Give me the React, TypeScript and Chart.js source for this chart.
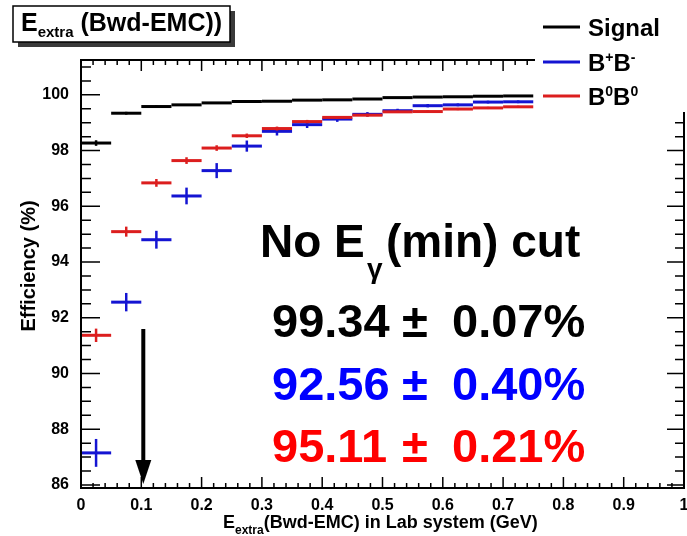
import React, { useEffect, useRef } from "react";
import { Chart, registerables } from "chart.js";
Chart.register(...registerables);

// ---- data ----
const binLow = [0, 0.05, 0.1, 0.15, 0.2, 0.25, 0.3, 0.35, 0.4, 0.45, 0.5, 0.55, 0.6, 0.65, 0.7];
const binWidth = 0.05;
const signalEff = [98.27, 99.34, 99.58, 99.64, 99.71, 99.76, 99.77, 99.81, 99.82, 99.85, 99.9, 99.92, 99.93, 99.95, 99.96];
const signalErr = [0.1, 0.05, 0.04, 0.03, 0.03, 0.03, 0.02, 0.02, 0.02, 0.02, 0.02, 0.02, 0.02, 0.02, 0.02];
const bpbmEff = [87.15, 92.56, 94.8, 96.37, 97.28, 98.16, 98.69, 98.93, 99.13, 99.3, 99.43, 99.61, 99.64, 99.74, 99.75];
const bpbmErr = [0.5, 0.33, 0.32, 0.3, 0.27, 0.2, 0.15, 0.12, 0.1, 0.08, 0.07, 0.06, 0.05, 0.05, 0.05];
const b0b0Eff = [91.37, 95.09, 96.84, 97.64, 98.09, 98.53, 98.79, 99.04, 99.19, 99.27, 99.39, 99.4, 99.49, 99.53, 99.57];
const b0b0Err = [0.24, 0.18, 0.14, 0.12, 0.1, 0.08, 0.07, 0.06, 0.05, 0.05, 0.04, 0.04, 0.04, 0.04, 0.04];

const xTickValues = [0, 0.1, 0.2, 0.3, 0.4, 0.5, 0.6, 0.7, 0.8, 0.9, 1];
const xTickLabels = ["0", "0.1", "0.2", "0.3", "0.4", "0.5", "0.6", "0.7", "0.8", "0.9", "1"];
const yTickValues = [86, 88, 90, 92, 94, 96, 98, 100];
const yTickLabels = ["86", "88", "90", "92", "94", "96", "98", "100"];

const seriesNames = ["Signal", "B+B-", "B0B0"];
const summaryValues = ["99.34", "92.56", "95.11"];
const summaryErrors = ["0.07%", "0.40%", "0.21%"];
const arrowX = 0.1;
const arrowTop = 91.6;
const arrowTip = 86.03;

const X_MIN = 0, X_MAX = 1, Y_MIN = 85.89, Y_MAX = 101.25;

const FONT = "'Liberation Sans', Arial, Helvetica, sans-serif";
const COLORS = ["#000000", "#1414d2", "#dc1e1e"];
const TEXT_COLORS = ["#000000", "#0000ff", "#ff0000"];

type Part = { t: string; size: number; dy?: number };
function drawParts(ctx: CanvasRenderingContext2D, parts: Part[], x: number, y: number, color: string) {
  ctx.save();
  ctx.fillStyle = color;
  ctx.textAlign = "left";
  ctx.textBaseline = "alphabetic";
  let cx = x;
  for (const p of parts) {
    ctx.font = `bold ${p.size}px ${FONT}`;
    ctx.fillText(p.t, cx, y + (p.dy || 0));
    cx += ctx.measureText(p.t).width;
  }
  ctx.restore();
  return cx;
}

const errorPlugin = {
  id: "rootErrors",
  afterDatasetsDraw(chart: any) {
    const ctx: CanvasRenderingContext2D = chart.ctx;
    const xs = chart.scales.x, ys = chart.scales.y;
    chart.data.datasets.forEach((ds: any) => {
      ctx.save();
      ctx.strokeStyle = ds.borderColor;
      ds.data.forEach((pt: any, i: number) => {
        const x1 = xs.getPixelForValue(pt.x - binWidth / 2);
        const x2 = xs.getPixelForValue(pt.x + binWidth / 2);
        const yc = ys.getPixelForValue(pt.y);
        const yTop = ys.getPixelForValue(pt.y + ds.errors[i]);
        const yBot = ys.getPixelForValue(pt.y - ds.errors[i]);
        const xc = xs.getPixelForValue(pt.x);
        ctx.lineWidth = 3;
        ctx.beginPath();
        ctx.moveTo(x1, yc);
        ctx.lineTo(x2, yc);
        ctx.stroke();
        ctx.lineWidth = 2.5;
        ctx.beginPath();
        ctx.moveTo(xc, yTop);
        ctx.lineTo(xc, yBot);
        ctx.stroke();
      });
      ctx.restore();
    });
  },
};

const decorPlugin = {
  id: "rootDecor",
  afterDraw(chart: any) {
    const ctx: CanvasRenderingContext2D = chart.ctx;
    const xs = chart.scales.x, ys = chart.scales.y;
    const { left, right, top, bottom } = chart.chartArea;
    ctx.save();
    ctx.strokeStyle = "#000";
    ctx.lineWidth = 2;
    ctx.strokeRect(left, top, right - left, bottom - top);
    ctx.lineWidth = 1.5;
    for (let k = 0; k <= 50; k++) {
      const v = X_MIN + k * 0.02;
      const px = xs.getPixelForValue(v);
      const len = k % 5 === 0 ? 11 : 5;
      ctx.beginPath();
      ctx.moveTo(px, bottom);
      ctx.lineTo(px, bottom - len);
      ctx.moveTo(px, top);
      ctx.lineTo(px, top + len);
      ctx.stroke();
    }
    for (let k = 0; k * 0.5 + 86 <= Y_MAX; k++) {
      const v = 86 + k * 0.5;
      const py = ys.getPixelForValue(v);
      const major = k % 4 === 0;
      ctx.beginPath();
      ctx.moveTo(left, py);
      ctx.lineTo(left + (major ? 19 : 10), py);
      ctx.moveTo(right, py);
      ctx.lineTo(right - (major ? 17 : 9), py);
      ctx.stroke();
    }
    ctx.restore();

    // arrow
    ctx.save();
    const ax = xs.getPixelForValue(arrowX) + 2;
    const aTop = ys.getPixelForValue(arrowTop);
    const aTip = ys.getPixelForValue(arrowTip);
    ctx.strokeStyle = "#000";
    ctx.fillStyle = "#000";
    ctx.lineWidth = 4;
    ctx.beginPath();
    ctx.moveTo(ax, aTop);
    ctx.lineTo(ax, aTip - 22);
    ctx.stroke();
    ctx.beginPath();
    ctx.moveTo(ax - 8, aTip - 24);
    ctx.lineTo(ax + 8, aTip - 24);
    ctx.lineTo(ax, aTip);
    ctx.closePath();
    ctx.fill();
    ctx.restore();

    // legend box
    ctx.save();
    ctx.fillStyle = "#fff";
    ctx.fillRect(535, 0, 152, 112);
    const ly = [27, 62, 96];
    for (let i = 0; i < 3; i++) {
      ctx.strokeStyle = COLORS[i];
      ctx.lineWidth = 3;
      ctx.beginPath();
      ctx.moveTo(543, ly[i]);
      ctx.lineTo(580, ly[i]);
      ctx.stroke();
    }
    ctx.restore();
    drawParts(ctx, [{ t: seriesNames[0], size: 24 }], 588, ly[0] + 9, "#000");
    drawParts(ctx, [
      { t: "B", size: 24 }, { t: "+", size: 14, dy: -9 },
      { t: "B", size: 24 }, { t: "-", size: 14, dy: -9 },
    ], 588, ly[1] + 9, "#000");
    drawParts(ctx, [
      { t: "B", size: 24 }, { t: "0", size: 14, dy: -9 },
      { t: "B", size: 24 }, { t: "0", size: 14, dy: -9 },
    ], 588, ly[2] + 9, "#000");

    // title box
    ctx.save();
    ctx.fillStyle = "#3a3a3a";
    ctx.fillRect(18, 11, 217, 36);
    ctx.fillStyle = "#fff";
    ctx.fillRect(13, 6, 217, 36);
    ctx.strokeStyle = "#000";
    ctx.lineWidth = 1.5;
    ctx.strokeRect(13, 6, 217, 36);
    ctx.restore();
    drawParts(ctx, [
      { t: "E", size: 25 }, { t: "extra", size: 15, dy: 6 }, { t: " (Bwd-EMC))", size: 25 },
    ], 21, 31, "#000");

    // axis titles
    drawParts(ctx, [
      { t: "E", size: 18 }, { t: "extra", size: 12, dy: 6 }, { t: "(Bwd-EMC) in Lab system (GeV)", size: 18 },
    ], 223, 528, "#000");
    ctx.save();
    ctx.translate(35, 266);
    ctx.rotate(-Math.PI / 2);
    ctx.font = `bold 20px ${FONT}`;
    ctx.fillStyle = "#000";
    ctx.textAlign = "center";
    ctx.textBaseline = "alphabetic";
    ctx.fillText("Efficiency (%)", 0, 0);
    ctx.restore();

    // annotation
    drawParts(ctx, [{ t: "No E", size: 46 }], 260, 257, "#000");
    drawParts(ctx, [{ t: "γ", size: 28 }], 367, 278, "#000");
    drawParts(ctx, [{ t: "(min) cut", size: 46 }], 386, 257, "#000");
    const rows = [337, 400, 462];
    for (let i = 0; i < 3; i++) {
      drawParts(ctx, [{ t: summaryValues[i], size: 47 }], 272, rows[i], TEXT_COLORS[i]);
      drawParts(ctx, [{ t: "±", size: 47 }], 402, rows[i], TEXT_COLORS[i]);
      drawParts(ctx, [{ t: summaryErrors[i], size: 47 }], 452, rows[i], TEXT_COLORS[i]);
    }
  },
};

export default function App() {
  const ref = useRef<HTMLCanvasElement>(null);
  useEffect(() => {
    if (!ref.current) return;
    const mk = (eff: number[], err: number[], i: number) => ({
      label: seriesNames[i],
      data: binLow.map((lo, k) => ({ x: lo + binWidth / 2, y: eff[k] })),
      errors: err,
      borderColor: COLORS[i],
      backgroundColor: COLORS[i],
      pointRadius: 0,
      showLine: false,
    });
    const chart = new Chart(ref.current, {
      type: "scatter",
      data: {
        datasets: [
          mk(signalEff, signalErr, 0),
          mk(bpbmEff, bpbmErr, 1),
          mk(b0b0Eff, b0b0Err, 2),
        ] as any,
      },
      options: {
        animation: false,
        responsive: false,
        events: [],
        layout: { padding: { left: 0, right: 3, top: 60, bottom: 0 } },
        plugins: { legend: { display: false }, tooltip: { enabled: false } },
        scales: {
          x: {
            type: "linear",
            min: X_MIN,
            max: X_MAX,
            grid: { display: false, drawTicks: false },
            border: { display: false },
            afterBuildTicks: (s: any) => { s.ticks = xTickValues.map((v) => ({ value: v })); },
            afterFit: (s: any) => { s.height = 48; s.paddingLeft = 0; s.paddingRight = 0; },
            ticks: {
              color: "#000",
              font: { family: FONT, weight: "bold", size: 16 },
              padding: 8,
              maxRotation: 0,
              autoSkip: false,
              callback: (_v: any, i: number) => xTickLabels[i],
            },
          },
          y: {
            type: "linear",
            min: Y_MIN,
            max: Y_MAX,
            grid: { display: false, drawTicks: false },
            border: { display: false },
            afterBuildTicks: (s: any) => { s.ticks = yTickValues.map((v) => ({ value: v })); },
            afterFit: (s: any) => { s.width = 81; s.paddingTop = 0; s.paddingBottom = 0; },
            ticks: {
              color: "#000",
              font: { family: FONT, weight: "bold", size: 16 },
              padding: 12,
              autoSkip: false,
              callback: (_v: any, i: number) => yTickLabels[i],
            },
          },
        },
      } as any,
      plugins: [errorPlugin, decorPlugin],
    });
    return () => chart.destroy();
  }, []);
  return (
    <div style={{ position: "fixed", left: 0, top: 0, width: 687, height: 536, background: "#fff" }}>
      <canvas ref={ref} width={687} height={536} style={{ width: 687, height: 536 }} />
    </div>
  );
}
